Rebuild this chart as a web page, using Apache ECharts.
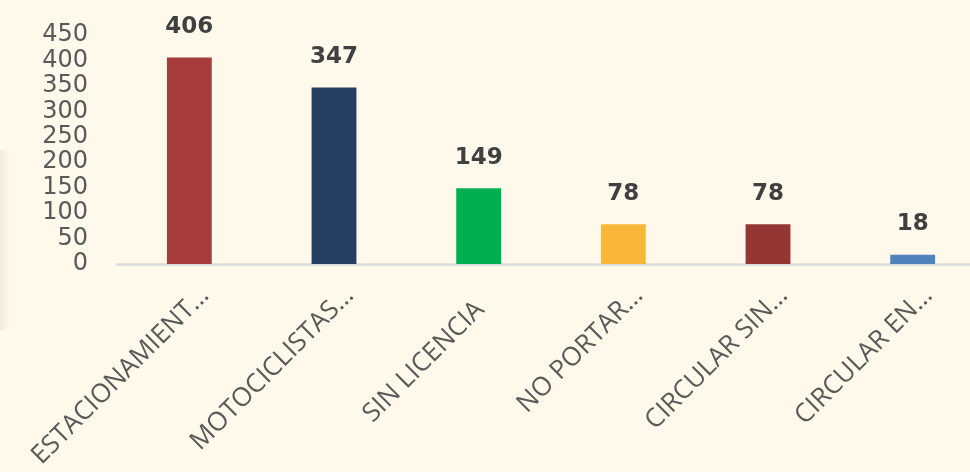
<!DOCTYPE html>
<html>
<head>
<meta charset="utf-8">
<script src="https://cdn.jsdelivr.net/npm/echarts@6/dist/echarts.min.js"></script>
<style>
html,body{margin:0;padding:0;background:#FEF9EB;overflow:hidden;}
#wrap{width:970px;height:472px;overflow:hidden;position:relative;}
#chart{width:985px;height:472px;}
</style>
</head>
<body>
<div id="wrap"><div id="chart"></div></div>
<script>
const categories = ["ESTACIONAMIENT…", "MOTOCICLISTAS…", "SIN LICENCIA", "NO PORTAR…", "CIRCULAR SIN…", "CIRCULAR EN…"];
const values = [406, 347, 149, 78, 78, 18];
const barColors = ["#A63C3B", "#243F60", "#00B050", "#F8B739", "#943634", "#4F81BD"];
const yTicks = [0, 50, 100, 150, 200, 250, 300, 350, 400, 450];

const chart = echarts.init(document.getElementById('chart'));
chart.setOption({
  backgroundColor: '#FEF9EB',
  animation: false,
  graphic: [{
    type: 'rect', left: 0, top: 150, z: -1, silent: true,
    shape: { width: 10, height: 180 },
    style: {
      fill: {
        type: 'linear', x: 0, y: 0, x2: 1, y2: 0,
        colorStops: [
          { offset: 0, color: 'rgba(0,0,0,0.05)' },
          { offset: 1, color: 'rgba(0,0,0,0)' }
        ]
      }
    }
  }],
  grid: { left: 117, right: 0, top: 35, bottom: 208, containLabel: false },
  xAxis: {
    type: 'category',
    data: categories,
    axisLine: { show: true, lineStyle: { color: '#D9D9D9', width: 2.5 } },
    axisTick: { show: false },
    axisLabel: {
      rotate: 45, interval: 0, margin: 43,
      color: '#595959', fontSize: 26, fontFamily: 'Open Sans',
      padding: [0, -22, 0, 0],
      formatter: v => v.endsWith('…') ? v : '{s|' + v + '}',
      rich: {
        s: { color: '#595959', fontSize: 26, fontFamily: 'Open Sans', padding: [0, 20, 0, 0] }
      }
    }
  },
  yAxis: {
    type: 'value', min: 0, max: 450, interval: 50,
    splitLine: { show: false },
    axisLine: { show: false },
    axisTick: { show: false },
    axisLabel: {
      color: '#595959', fontSize: 24, fontFamily: 'DejaVu Sans', margin: 29,
      formatter: v => yTicks.includes(v) ? String(v) : ''
    }
  },
  series: [{
    type: 'bar',
    data: values.map((v, i) => ({ value: v, itemStyle: { color: barColors[i] } })),
    barWidth: '31%',
    label: {
      show: true, position: 'top', distance: 19,
      color: '#404040', fontSize: 23, fontWeight: 'bold', fontFamily: 'DejaVu Sans'
    }
  }]
});
</script>
</body>
</html>
